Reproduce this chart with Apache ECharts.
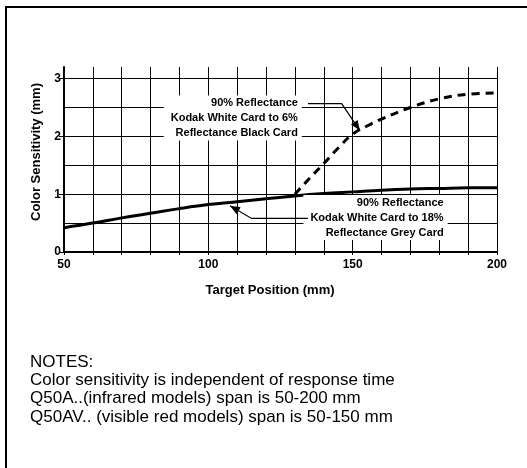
<!DOCTYPE html>
<html><head><meta charset="utf-8">
<script src="https://cdn.jsdelivr.net/npm/echarts@6/dist/echarts.min.js"></script>
<style>html,body{margin:0;padding:0;background:#fff}#c{width:527px;height:468px}</style>
</head><body><div id="c"></div><script>
// ---- data ----
const solidX = [50,60,70,80,90,100,110,120,130,140,150,160,170,180,190,200];
const solidY = [0.42,0.50,0.59,0.67,0.75,0.82,0.87,0.92,0.97,1.01,1.04,1.07,1.09,1.10,1.11,1.11];
const dashedX = [130,135,140,145,150,155,160,170,180,190,200];
const dashedY = [1.00,1.27,1.53,1.80,2.04,2.18,2.30,2.50,2.65,2.73,2.75];
const xTickLabels = [50,100,150,200];
const yTickLabels = [0,1,2,3];
const upperLabel = ["90% Reflectance","Kodak White Card to 6%","Reflectance Black Card"];
const lowerLabel = ["90% Reflectance","Kodak White Card to 18%","Reflectance Grey Card"];
const notes = ["NOTES:","Color sensitivity is independent of response time","Q50A..(infrared models) span is 50-200 mm","Q50AV.. (visible red models) span is 50-150 mm"];
// annotation anchors in data units: [textRightX, textCenterY], leader path
const upperAnno = {text:[132.4,2.32], path:[[134.5,2.565],[146.2,2.565],[152.5,2.10]]};
const lowerAnno = {text:[182.9,0.596], path:[[134.5,0.58],[115,0.58],[107.5,0.80]]};

const FONT = '"Liberation Sans Narrow","Arial Narrow","Liberation Sans",Arial,sans-serif';
const chart = echarts.init(document.getElementById('c'), null, {renderer:'canvas'});
const option = {
  backgroundColor:'#fff',
  animation:false,
  grid:{left:64,right:30,top:67,bottom:216,containLabel:false},
  xAxis:{type:'value',min:50,max:200,interval:10,
    name:'Target Position (mm)',nameLocation:'middle',nameGap:32,
    nameTextStyle:{fontFamily:FONT,fontWeight:'bold',fontSize:13,color:'#000',padding:[0,21,0,0]},
    axisLine:{show:true,lineStyle:{color:'#000',width:2}},
    axisTick:{show:true,length:3,lineStyle:{color:'#000',width:1}},
    axisLabel:{customValues:xTickLabels,fontFamily:FONT,fontWeight:'bold',fontSize:12,color:'#000',margin:7,
      formatter:v=>xTickLabels.includes(v)?String(v):''},
    splitLine:{show:true,showMinLine:false,lineStyle:{color:'#000',width:1}}
  },
  yAxis:[
    {type:'value',min:0,max:3.2,interval:0.5,position:'left',
      name:'Color Sensitivity (mm)',nameLocation:'middle',nameGap:21,nameRotate:90,
      nameTextStyle:{fontFamily:FONT,fontWeight:'bold',fontSize:13,color:'#000',padding:[0,0,0,15]},
      axisLine:{show:true,lineStyle:{color:'#000',width:2}},
      axisTick:{show:false},
      axisLabel:{show:false},
      splitLine:{show:true,showMinLine:false,showMaxLine:false,lineStyle:{color:'#000',width:1}}
    },
    {type:'value',min:0,max:3.2,position:'left',offset:0,
      axisLine:{show:false},
      axisTick:{show:true,customValues:yTickLabels,length:5,lineStyle:{color:'#000',width:1}},
      axisLabel:{customValues:yTickLabels,fontFamily:FONT,fontWeight:'bold',fontSize:12,color:'#000',margin:3,
        formatter:v=>yTickLabels.includes(v)?String(v):''},
      splitLine:{show:false}
    }
  ],
  series:[
    {type:'line',yAxisIndex:0,data:solidX.map((x,i)=>[x,solidY[i]]),smooth:0.4,symbol:'none',
      lineStyle:{color:'#000',width:3},z:3},
    {type:'line',yAxisIndex:0,data:dashedX.map((x,i)=>[x,dashedY[i]]),smooth:0.4,symbol:'none',
      lineStyle:{color:'#000',width:3,type:[8,6]},z:3}
  ]
};
chart.setOption(option);

function anno(a, lines){
  const t = chart.convertToPixel({xAxisIndex:0,yAxisIndex:0}, a.text);
  const pts = a.path.map(p=>chart.convertToPixel({xAxisIndex:0,yAxisIndex:0}, p));
  const tip = pts[pts.length-1], prev = pts[pts.length-2];
  const ang = Math.atan2(tip[1]-prev[1], tip[0]-prev[0]);
  const L = 10, W = 4;
  const bx = tip[0]-L*Math.cos(ang), by = tip[1]-L*Math.sin(ang);
  const nx = -Math.sin(ang), ny = Math.cos(ang);
  return [
    {type:'text',z:20,style:{text:lines.join('\n'),x:t[0],y:t[1],align:'right',verticalAlign:'middle',
      font:'bold 11px '+FONT,lineHeight:15,fill:'#000',backgroundColor:'#fff',padding:[0,4,0,7]}},
    {type:'polyline',z:20,shape:{points:pts},style:{stroke:'#000',lineWidth:1.2,fill:null}},
    {type:'polygon',z:21,shape:{points:[tip,[bx+nx*W,by+ny*W],[bx-nx*W,by-ny*W]]},style:{fill:'#000'}}
  ];
}
const graphics = [
  {type:'line',z:30,shape:{x1:6,y1:7,x2:527,y2:7},style:{stroke:'#000',lineWidth:2}},
  {type:'line',z:30,shape:{x1:6,y1:6,x2:6,y2:468},style:{stroke:'#000',lineWidth:2}},
  ...anno(upperAnno, upperLabel),
  ...anno(lowerAnno, lowerLabel),
  {type:'text',left:30,top:353,z:20,style:{text:notes.join('\n'),font:'17px '+FONT,lineHeight:18.3,fill:'#000'}}
];
chart.setOption({graphic:graphics});
</script></body></html>
